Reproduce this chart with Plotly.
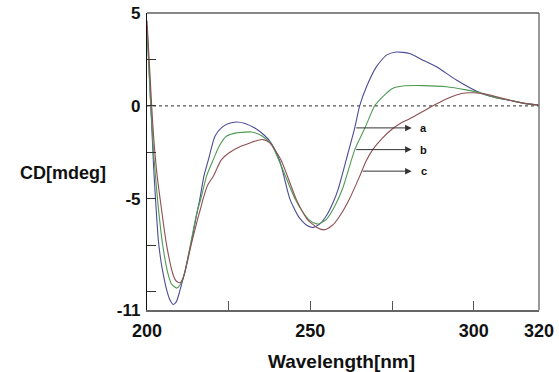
import plotly.graph_objects as go

# Wavelengths (nm) and CD values (mdeg)
wl_a = [200, 200.5, 201, 201.5, 202, 202.6, 203.5, 204.3, 205, 206, 207, 208, 209, 210, 211,
        211.6, 212.5, 213.5, 214.5, 215.5, 216.2, 217.4, 218.8, 220.8, 223, 225, 227.4, 230,
        233, 236, 238, 240.7, 243.7, 246.5, 249, 250.9, 253, 255, 257, 258.5, 261, 263.6,
        265.1, 267.2, 270.2, 273.3, 276.3, 280.4, 284, 288.6, 294.7, 301.8, 306, 311, 316, 320]
cd_a = [4.3, 2.5, 0.6, -1.3, -3.2, -5.0, -7.3, -8.4, -9.1, -9.9, -10.45, -10.7, -10.55, -10.0, -9.35,
        -8.95, -8.2, -7.4, -6.5, -5.6, -5.0, -3.8, -2.9, -1.64, -1.15, -0.95, -0.87, -0.95,
        -1.2, -1.6, -2.0, -3.0, -5.0, -6.0, -6.45, -6.55, -6.35, -5.9, -5.2, -4.5, -2.9, -1.19,
        0.0, 1.03, 2.1, 2.73, 2.9, 2.82, 2.5, 2.1, 1.39, 0.71, 0.48, 0.3, 0.12, 0.05]

wl_b = [200, 200.5, 201, 201.5, 202, 203.2, 204.8, 206.5, 207.5, 209.1, 210.3, 211.6, 212.5,
        213.5, 214.5, 215.5, 216.5, 218.2, 220.3, 222, 224.3, 227.4, 230, 232, 235, 238, 241,
        245.3, 248, 250, 252.4, 255, 257.5, 260, 263.6, 266.7, 269.7, 272.2, 275.3, 278.4,
        284.5, 291.7, 297.7, 301.8, 306, 311, 316, 320]
cd_b = [4.0, 2.3, 0.5, -1.0, -2.5, -5.0, -7.5, -9.1, -9.6, -9.82, -9.6, -8.95, -8.2,
        -7.3, -6.4, -5.6, -5.0, -3.8, -2.9, -2.2, -1.64, -1.46, -1.42, -1.41, -1.6, -2.05, -3.2,
        -5.0, -5.8, -6.2, -6.37, -6.1, -5.4, -4.4, -2.36, -1.2, 0.0, 0.5, 0.95, 1.07,
        1.09, 1.03, 0.86, 0.71, 0.48, 0.3, 0.12, 0.03]

wl_c = [200, 200.5, 201, 201.5, 202, 203, 204, 206, 208, 209, 210.1, 211, 211.6, 212.5, 213.5,
        214.5, 215.5, 216.3, 217.2, 218.5, 220.3, 222.8, 225.4, 228.4, 231.5, 233.5, 235.6,
        237.6, 241, 245.6, 249, 252, 254.4, 257, 259.5, 262, 265.1, 267, 269.1, 272, 274.8,
        277.5, 280.4, 284, 287.5, 292, 296.6, 300, 304, 311, 316, 320]
cd_c = [4.6, 3.0, 1.4, -0.2, -1.6, -3.6, -5.0, -7.5, -9.1, -9.45, -9.53, -9.3, -8.95, -8.3, -7.5,
        -6.8, -6.1, -5.6, -5.0, -4.3, -3.79, -2.9, -2.5, -2.2, -2.0, -1.88, -1.82,
        -2.0, -2.9, -5.0, -6.1, -6.55, -6.68, -6.4, -5.8, -5.0, -3.8, -3.0, -2.36, -1.75, -1.29,
        -0.95, -0.7, -0.35, 0.0, 0.4, 0.68, 0.7, 0.62, 0.3, 0.12, 0.05]

x_ticks = [200, 225, 250, 275, 300, 320]
x_labels = ["200", "", "250", "", "300", "320"]
y_ticks = [5, 2.5, 0, -2.5, -5, -7.5, -10, -11]
y_labels = ["5", "", "0", "", "-5", "", "", "-11"]

# arrows: label, tail x, head x, y
arrow_labels = ["a", "b", "c"]
arrow_tail = [263.6, 263.6, 265.6]
arrow_head = [281.0, 281.0, 281.0]
arrow_y = [-1.19, -2.36, -3.52]

colors = ["#4b4b96", "#4f9a55", "#8e4f52"]

fig = go.Figure()
for wl, cd, col in [(wl_a, cd_a, colors[0]), (wl_b, cd_b, colors[1]), (wl_c, cd_c, colors[2])]:
    fig.add_trace(go.Scatter(x=wl, y=cd, mode="lines",
                             line=dict(color=col, width=1.1, shape="spline", smoothing=0.6),
                             showlegend=False, hoverinfo="skip"))

# zero reference line
fig.add_trace(go.Scatter(x=[200, 320], y=[0, 0], mode="lines",
                         line=dict(color="#555555", width=1.2, dash="dot"),
                         showlegend=False, hoverinfo="skip"))

font_bold = "Liberation Sans, Arial, sans-serif"

for lab, xt, xh, y in zip(arrow_labels, arrow_tail, arrow_head, arrow_y):
    fig.add_annotation(x=xh, y=y, ax=xt, ay=y, xref="x", yref="y", axref="x", ayref="y",
                       text="", showarrow=True, arrowhead=2, arrowsize=1.3, arrowwidth=1,
                       arrowcolor="#333333")
    fig.add_annotation(x=284.7, y=y, xref="x", yref="y", text="<b>%s</b>" % lab,
                       showarrow=False, xanchor="center", yanchor="middle",
                       font=dict(family=font_bold, size=11, color="#111111"))

# axis titles (positions in paper fractions of the plot area)
fig.add_annotation(x=-0.215, y=0.462, xref="paper", yref="paper", text="<b>CD[mdeg]</b>",
                   showarrow=False, xanchor="center", yanchor="middle",
                   font=dict(family=font_bold, size=18, color="#111111"))
fig.add_annotation(x=0.495, y=-0.174, xref="paper", yref="paper", text="<b>Wavelength[nm]</b>",
                   showarrow=False, xanchor="center", yanchor="middle",
                   font=dict(family=font_bold, size=19, color="#111111"))

# top (black) and right (gray) frame lines
fig.add_shape(type="line", xref="paper", yref="paper", x0=0, x1=1, y0=1, y1=1,
              line=dict(color="#111111", width=1.2))
fig.add_shape(type="line", xref="paper", yref="paper", x0=1, x1=1, y0=0, y1=1,
              line=dict(color="#777777", width=1.5))

fig.update_layout(
    width=559, height=372,
    margin=dict(l=147, r=20, t=13, b=62, autoexpand=False),
    paper_bgcolor="white", plot_bgcolor="white",
    xaxis=dict(range=[200, 320], tickvals=x_ticks,
               ticktext=["<b>%s</b>" % t if t else "" for t in x_labels],
               ticks="inside", ticklen=9, tickcolor="#555555", tickwidth=1,
               showline=True, linecolor="#666666", linewidth=1.5, automargin=False,
               showgrid=False, zeroline=False, ticklabelstandoff=4,
               tickfont=dict(family=font_bold, size=18, color="#111111")),
    yaxis=dict(range=[-11, 5], tickvals=y_ticks,
               ticktext=["<b>%s</b>" % t if t else "" for t in y_labels],
               ticks="inside", ticklen=9, tickcolor="#333333", tickwidth=1,
               showline=True, linecolor="#111111", linewidth=1.2, automargin=False,
               showgrid=False, zeroline=False, ticklabelstandoff=2,
               tickfont=dict(family=font_bold, size=17, color="#111111")),
)

fig.write_html("out.html", config={"displayModeBar": False},
               post_script="document.body.style.margin='0px';")
